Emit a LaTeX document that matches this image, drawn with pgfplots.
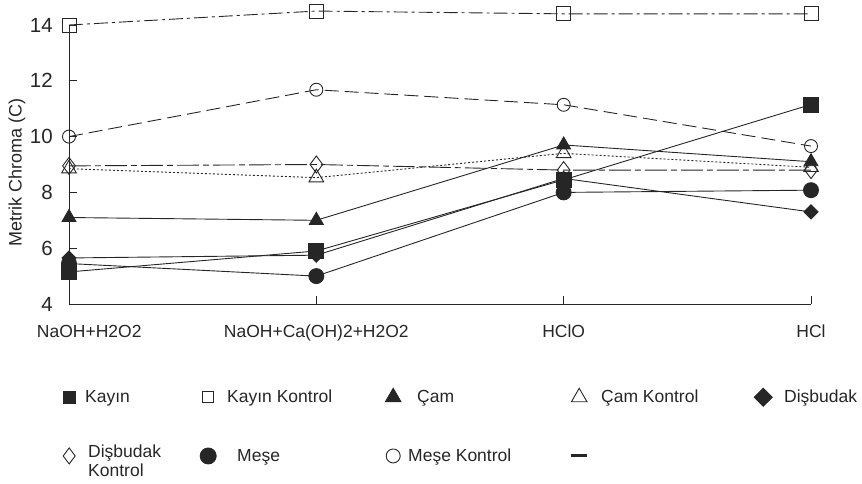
\documentclass[border=0pt]{standalone}
\usepackage{fontspec}
\setmainfont{Liberation Sans}
\usepackage{pgfplots}
\pgfplotsset{compat=1.18}

\pgfplotsset{
  lm/.style={legend image code/.code={%
    \path[draw=none, fill=none] (-12pt,-6pt) rectangle (12pt,6pt);
    \draw[##1,only marks,mark size=#1] plot coordinates {(0pt,0pt)};}},
}

\begin{document}
\begin{tikzpicture}
\begin{axis}[
    scale only axis,
    width=742pt, height=279pt,
    xmin=0, xmax=3, ymin=4, ymax=14,
    clip=false,
    axis x line*=bottom, axis y line*=left,
    axis line style={-, line width=0.9pt, black!85},
    xtick={0,1,2,3},
    xticklabels={{\makebox[0pt][l]{\hspace{-32pt}NaOH+H2O2}}, NaOH+Ca(OH)2+H2O2, HClO, HCl},
    ytick={4,6,...,14},
    tick align=inside, major tick length=8pt,
    tick style={line width=0.9pt, black!85},
    /pgf/number format/assume math mode=true,
    xticklabel style={font=\fontsize{17.5}{20}\selectfont, inner sep=0pt, yshift=-21pt, text=black!85},
    yticklabel style={font=\fontsize{20.5}{24}\selectfont, inner sep=0pt, xshift=-16pt, text=black!85},
    ylabel={Metrik Chroma (C)},
    every axis y label/.style={at={(axis description cs:-0.070,0.473)}, rotate=90, anchor=center,
      font=\fontsize{18}{21}\selectfont, text=black!85},
    every axis plot/.append style={line width=0.9pt, black!85},
    legend columns=5,
    legend cell align=left,
    legend style={at={(0,0)}, anchor=north west, xshift=-12pt, yshift=-84pt,
      draw=none, fill=none, inner sep=0pt, column sep=0pt, row sep=37pt,
      nodes={inner sep=0pt}, font=\fontsize{17.5}{20}\selectfont, text=black!85},
]
% Kayin
\addplot[solid, mark=square*, mark size=7.5pt, mark options={solid, fill=black!85}, lm=6pt]
  coordinates {(0,5.15) (1,5.9) (2,8.45) (3,11.15)};
\addlegendentry{\makebox[115pt][l]{\hspace{4pt}Kayın}}
% Kayin Kontrol
\addplot[dash pattern=on 14pt off 4pt on 3pt off 4pt, mark=square, mark size=7pt, mark options={solid, fill=white}, lm=5.5pt]
  coordinates {(0,14.0) (1,14.5) (2,14.4) (3,14.4)};
\addlegendentry{\makebox[161pt][l]{\hspace{7pt}Kayın Kontrol}}
% Cam
\addplot[solid, mark=triangle*, mark size=8pt, mark options={solid, fill=black!85}, lm=9pt]
  coordinates {(0,7.1) (1,7.0) (2,9.7) (3,9.1)};
\addlegendentry{\makebox[162pt][l]{\hspace{12pt}Çam}}
% Cam Kontrol
\addplot[dash pattern=on 2pt off 2pt, mark=triangle, mark size=8.5pt, mark options={solid, fill=white}, lm=9pt]
  coordinates {(0,8.85) (1,8.53) (2,9.4) (3,8.9)};
\addlegendentry{\makebox[160pt][l]{\hspace{10pt}Çam Kontrol}}
% Disbudak
\addplot[solid, mark=square*, mark size=5pt, mark options={solid, rotate=45, fill=black!85}, lm=6.4pt]
  coordinates {(0,5.65) (1,5.75) (2,8.5) (3,7.3)};
\addlegendentry{\hspace{9pt}Dişbudak}
% Disbudak Kontrol
\addplot[dash pattern=on 22pt off 4pt on 6pt off 4pt, mark=diamond, mark size=8.5pt, mark options={solid, fill=white}, lm=8pt]
  coordinates {(0,8.95) (1,9.0) (2,8.8) (3,8.8)};
\addlegendentry{\makebox[115pt][l]{\hspace{7pt}\begin{tabular}[c]{@{}l@{}}Dişbudak\\[-1pt]Kontrol\end{tabular}}}
% Mese
\addplot[solid, mark=*, mark size=7.5pt, mark options={solid, fill=black!85}, lm=8pt]
  coordinates {(0,5.45) (1,5.0) (2,8.0) (3,8.08)};
\addlegendentry{\makebox[161pt][l]{\hspace{17pt}Meşe}}
% Mese Kontrol
\addplot[dash pattern=on 14pt off 6pt, mark=o, mark size=6.5pt, mark options={solid, fill=white}, lm=7pt]
  coordinates {(0,10.0) (1,11.68) (2,11.14) (3,9.66)};
\addlegendentry{\makebox[162pt][l]{\hspace{3pt}Meşe Kontrol}}
\addlegendimage{legend image code/.code={\path[draw=none, fill=none] (-12pt,-6pt) rectangle (12pt,6pt);
  \draw[line width=3pt, black!85] (-8pt,0pt) -- (8pt,0pt);}}
\addlegendentry{}
\end{axis}
\pgfresetboundingbox
\path[use as bounding box] ([shift={(-69pt,-179pt)}]current axis.south west)
  rectangle ([shift={(793pt,304pt)}]current axis.south west);
\end{tikzpicture}
\end{document}
